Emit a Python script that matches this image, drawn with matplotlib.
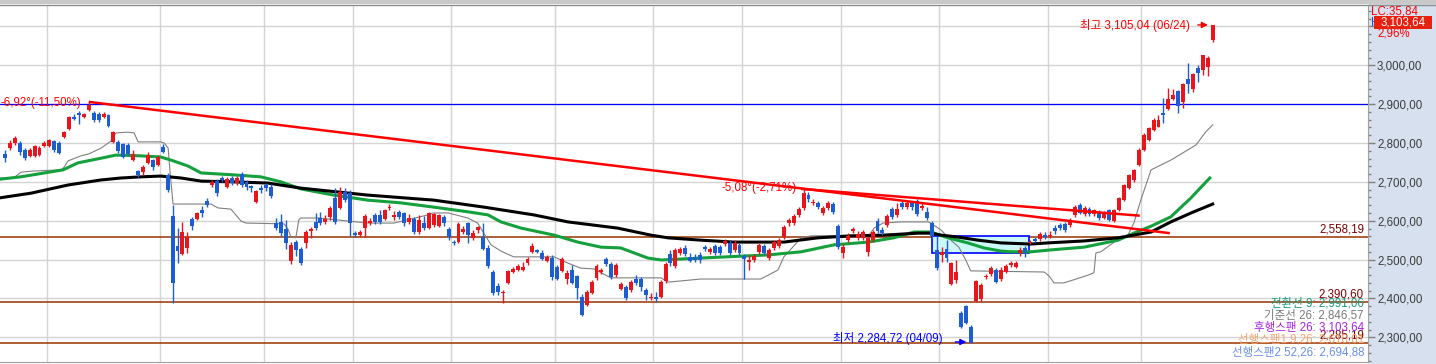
import numpy as np
import matplotlib.pyplot as plt
from matplotlib.patches import Rectangle
from matplotlib.ticker import FuncFormatter, MultipleLocator
import matplotlib.transforms as mtransforms

plt.rcParams['font.family'] = ['Liberation Sans', 'Noto Sans CJK KR', 'DejaVu Sans']

# daily candles, index 0 = first visible day
opens = [2771, 2787, 2800, 2800, 2782, 2767, 2767, 2769, 2792, 2792, 2805, 2800, 2816, 2836, 2867, 2877,
         2867, 2885, 2877, 2875, 2867, 2872, 2803, 2803, 2798, 2795, 2756, 2728, 2726, 2749, 2756, 2743,
         2790, 2718, 2612, 2535, 2514, 2530, 2605, 2605, 2628, 2651, 2692, 2702, 2710, 2687, 2710, 2697,
         2720, 2700, 2689, 2648, 2684, 2692, 2687, 2594, 2597, 2579, 2496, 2545, 2527, 2543, 2574, 2597,
         2607, 2597, 2610, 2659, 2633, 2674, 2671, 2568, 2563, 2581, 2594, 2615, 2615, 2605, 2633, 2610,
         2623, 2620, 2597, 2605, 2571, 2594, 2581, 2589, 2587, 2610, 2579, 2545, 2545, 2571, 2594, 2556,
         2576, 2558, 2530, 2468, 2432, 2414, 2440, 2468, 2473, 2473, 2491, 2520, 2525, 2517, 2496, 2504,
         2481, 2471, 2450, 2473, 2458, 2404, 2383, 2414, 2453, 2468, 2502, 2489, 2460, 2424, 2429, 2422,
         2450, 2450, 2422, 2401, 2404, 2404, 2445, 2514, 2484, 2517, 2530, 2507, 2507, 2512, 2532, 2520,
         2535, 2532, 2540, 2543, 2525, 2538, 2509, 2494, 2499, 2520, 2535, 2504, 2530, 2535, 2558, 2594,
         2594, 2615, 2633, 2666, 2646, 2646, 2620, 2633, 2643, 2587, 2517, 2550, 2574, 2556, 2556, 2520,
         2550, 2599, 2576, 2589, 2630, 2615, 2646, 2635, 2646, 2651, 2633, 2623, 2594, 2525, 2512, 2527,
         2437, 2447, 2363, 2381, 2327, 2394, 2399, 2455, 2463, 2473, 2450, 2468, 2486, 2481, 2517, 2530,
         2543, 2553, 2553, 2563, 2561, 2581, 2589, 2592, 2589, 2614, 2641, 2617, 2630, 2617, 2623, 2607,
         2627, 2599, 2627, 2653, 2684, 2705, 2743, 2782, 2808, 2833, 2841, 2877, 2888, 2913, 2934, 2906,
         2965, 2939, 2993, 2988, 2996, 3064]
highs = [2782, 2808, 2818, 2805, 2787, 2787, 2795, 2792, 2805, 2810, 2808, 2805, 2831, 2870, 2875, 2882,
         2877, 2906, 2882, 2880, 2880, 2875, 2831, 2808, 2800, 2800, 2782, 2731, 2744, 2777, 2759, 2769,
         2797, 2723, 2641, 2581, 2597, 2571, 2610, 2623, 2638, 2659, 2705, 2707, 2715, 2713, 2715, 2715,
         2726, 2705, 2692, 2679, 2692, 2697, 2695, 2607, 2617, 2602, 2545, 2550, 2532, 2576, 2584, 2620,
         2623, 2615, 2638, 2684, 2687, 2684, 2679, 2574, 2576, 2617, 2607, 2620, 2628, 2630, 2643, 2625,
         2628, 2623, 2617, 2610, 2615, 2612, 2623, 2620, 2617, 2615, 2584, 2550, 2597, 2587, 2597, 2576,
         2586, 2594, 2538, 2473, 2440, 2422, 2473, 2481, 2489, 2494, 2507, 2543, 2527, 2525, 2512, 2512,
         2486, 2507, 2473, 2486, 2460, 2411, 2422, 2447, 2489, 2478, 2507, 2494, 2491, 2442, 2434, 2447,
         2460, 2455, 2427, 2414, 2417, 2447, 2494, 2525, 2530, 2532, 2538, 2517, 2514, 2519, 2538, 2532,
         2540, 2538, 2553, 2550, 2550, 2543, 2514, 2512, 2514, 2543, 2540, 2530, 2550, 2556, 2589, 2607,
         2617, 2635, 2682, 2674, 2656, 2651, 2638, 2651, 2648, 2592, 2540, 2568, 2584, 2573, 2576, 2558,
         2576, 2607, 2584, 2617, 2635, 2646, 2651, 2651, 2651, 2656, 2645, 2635, 2599, 2561, 2532, 2550,
         2494, 2499, 2368, 2383, 2332, 2447, 2440, 2463, 2483, 2478, 2481, 2489, 2496, 2496, 2532, 2535,
         2550, 2558, 2571, 2571, 2573, 2589, 2594, 2597, 2607, 2640, 2646, 2638, 2635, 2630, 2628, 2625,
         2630, 2630, 2661, 2695, 2720, 2733, 2787, 2825, 2841, 2864, 2872, 2916, 2942, 2939, 2937, 2955,
         3006, 2980, 3001, 3027, 3024, 3105.04]
lows = [2751, 2782, 2795, 2769, 2756, 2764, 2764, 2767, 2790, 2790, 2777, 2772, 2813, 2833, 2859, 2849,
        2865, 2882, 2854, 2854, 2865, 2841, 2800, 2774, 2761, 2769, 2754, 2713, 2718, 2746, 2731, 2741,
        2774, 2674, 2388, 2491, 2512, 2517, 2576, 2602, 2610, 2636, 2687, 2664, 2700, 2684, 2692, 2692,
        2687, 2679, 2674, 2646, 2671, 2676, 2659, 2576, 2561, 2527, 2488, 2509, 2486, 2530, 2556, 2576,
        2589, 2592, 2602, 2592, 2630, 2648, 2561, 2558, 2558, 2558, 2589, 2592, 2592, 2602, 2628, 2602,
        2605, 2586, 2592, 2566, 2566, 2576, 2579, 2584, 2584, 2587, 2550, 2538, 2543, 2566, 2543, 2550,
        2568, 2524, 2478, 2409, 2409, 2388, 2437, 2465, 2471, 2471, 2486, 2517, 2517, 2499, 2494, 2447,
        2447, 2468, 2437, 2437, 2399, 2355, 2381, 2411, 2447, 2463, 2483, 2450, 2455, 2421, 2396, 2416,
        2434, 2419, 2396, 2396, 2391, 2401, 2440, 2483, 2478, 2512, 2509, 2494, 2494, 2491, 2522, 2514,
        2512, 2512, 2535, 2512, 2519, 2512, 2450, 2473, 2494, 2514, 2512, 2499, 2525, 2530, 2553, 2586,
        2589, 2610, 2627, 2648, 2641, 2630, 2615, 2628, 2617, 2527, 2504, 2545, 2568, 2550, 2550, 2509,
        2545, 2568, 2563, 2584, 2604, 2610, 2630, 2630, 2627, 2612, 2628, 2602, 2556, 2473, 2494, 2494,
        2435, 2440, 2324, 2334, 2284.72, 2391, 2391, 2450, 2458, 2440, 2445, 2465, 2481, 2478, 2509, 2507,
        2540, 2545, 2548, 2553, 2556, 2566, 2576, 2571, 2583, 2610, 2617, 2612, 2612, 2612, 2602, 2604,
        2599, 2596, 2625, 2650, 2681, 2700, 2740, 2779, 2805, 2831, 2841, 2852, 2885, 2910, 2877, 2890,
        2929, 2931, 2957, 2975, 2973, 3060]
closes = [2761, 2800, 2813, 2777, 2761, 2782, 2792, 2787, 2800, 2808, 2782, 2774, 2829, 2867, 2862, 2872,
          2875, 2898, 2859, 2859, 2875, 2844, 2829, 2780, 2764, 2772, 2772, 2718, 2738, 2769, 2738, 2764,
          2777, 2679, 2440, 2522, 2571, 2558, 2587, 2620, 2620, 2641, 2700, 2671, 2705, 2707, 2697, 2710,
          2692, 2687, 2684, 2676, 2679, 2684, 2664, 2581, 2568, 2543, 2538, 2525, 2491, 2571, 2579, 2581,
          2594, 2605, 2633, 2597, 2674, 2653, 2594, 2563, 2571, 2612, 2599, 2597, 2597, 2628, 2635, 2615,
          2610, 2594, 2607, 2571, 2602, 2581, 2620, 2617, 2615, 2594, 2558, 2543, 2592, 2579, 2563, 2568,
          2584, 2527, 2484, 2414, 2417, 2417, 2471, 2476, 2484, 2481, 2502, 2535, 2520, 2502, 2507, 2455,
          2450, 2502, 2466, 2440, 2427, 2357, 2417, 2442, 2484, 2473, 2489, 2455, 2486, 2437, 2401, 2442,
          2440, 2429, 2409, 2404, 2399, 2442, 2489, 2491, 2525, 2527, 2514, 2496, 2499, 2499, 2527, 2527,
          2517, 2517, 2548, 2517, 2543, 2517, 2502, 2499, 2509, 2538, 2517, 2525, 2545, 2550, 2584, 2602,
          2612, 2630, 2671, 2656, 2648, 2635, 2633, 2646, 2623, 2532, 2532, 2561, 2579, 2566, 2571, 2556,
          2571, 2574, 2568, 2612, 2610, 2630, 2635, 2646, 2635, 2617, 2638, 2607, 2561, 2478, 2520, 2504,
          2491, 2468, 2327, 2337, 2286, 2445, 2435, 2458, 2478, 2442, 2473, 2484, 2491, 2491, 2525, 2520,
          2545, 2548, 2566, 2558, 2563, 2574, 2581, 2576, 2602, 2635, 2620, 2633, 2617, 2627, 2607, 2622,
          2602, 2627, 2658, 2692, 2718, 2731, 2782, 2821, 2838, 2859, 2859, 2872, 2913, 2924, 2895, 2952,
          2952, 2978, 2980, 3027, 3019, 3103.64]

# overlay lines, read as (day index, price) knots
base_x = [-1.0, 1.8, 3.2, 5.9, 11.4, 12.0, 12.8, 13.8, 15.4, 17.0, 19.5, 21.5, 22.5, 24.9, 26.2, 27.0,
          31.6, 32.3, 33.1, 33.5, 34.1, 41.8, 43.2, 45.8, 46.5, 47.9, 48.9, 56.6, 57.4, 58.0, 59.0, 59.6,
          60.0, 63.7, 73.6, 78.9, 85.8, 86.8, 89.9, 93.9, 95.9, 97.0, 98.6, 100.6, 103.2, 111.4, 114.2,
          116.8, 119.5, 122.9, 133.1, 134.5, 141.2, 153.3, 156.8, 158.0, 159.8, 161.5, 163.5, 175.3, 176.3,
          178.1, 181.7, 187.2, 187.8, 189.9, 191.9, 193.5, 194.9, 195.9, 210.8, 211.8, 212.8, 214.8, 216.8,
          219.7, 220.9, 221.3, 222.3, 225.0, 227.8, 229.0, 230.4, 232.5, 236.5, 241.6, 243.6, 245.0]
base_y = [2710, 2710, 2725, 2728, 2731, 2738, 2754, 2759, 2767, 2772, 2787, 2805, 2826, 2828, 2826, 2803,
          2803, 2800, 2787, 2723, 2643, 2643, 2633, 2630, 2620, 2599, 2594, 2592, 2579, 2558, 2556, 2602,
          2607, 2607, 2594, 2594, 2615, 2620, 2620, 2607, 2594, 2571, 2538, 2522, 2507, 2507, 2491,
          2478, 2476, 2453, 2453, 2442, 2450, 2450, 2473, 2507, 2532, 2556, 2561, 2563, 2581,
          2594, 2597, 2597, 2594, 2576, 2550, 2532, 2499, 2471, 2468, 2458, 2440, 2440, 2448,
          2460, 2466, 2517, 2520, 2545, 2563, 2594, 2653, 2731, 2756, 2795, 2829, 2846.57]
green_x = [-1.0, 3.2, 11.8, 14.8, 19.5, 22.5, 27.6, 31.6, 33.7, 37.1, 39.8, 46.5, 51.9, 56.0, 60.0, 66.7,
           73.6, 80.3, 87.0, 93.9, 98.0, 100.6, 104.7, 111.4, 116.2, 120.9, 124.9, 130.4, 133.1, 141.2,
           154.8, 161.5, 168.2, 175.1, 180.3, 184.4, 187.8, 191.3, 195.3, 198.6, 202.0, 204.1, 208.1,
           212.2, 218.9, 225.8, 229.0, 232.5, 236.5, 240.6, 244.4]
green_y = [2707, 2713, 2731, 2749, 2761, 2769, 2767, 2764, 2756, 2741, 2723, 2718, 2713, 2700, 2682, 2666,
           2653, 2646, 2635, 2623, 2615, 2597, 2581, 2563, 2545, 2532, 2530, 2504, 2499, 2504,
           2512, 2520, 2538, 2545, 2556, 2571, 2571, 2556, 2543, 2530, 2522, 2520, 2520,
           2525, 2532, 2550, 2568, 2586, 2610, 2659, 2710]
black_x = [-1.0, 5.3, 12.8, 19.5, 23.5, 27.6, 31.6, 35.7, 39.8, 46.5, 53.3, 60.0, 73.6, 87.0, 97.2, 107.3,
           114.2, 124.3, 131.0, 134.5, 141.2, 147.9, 158.0, 164.9, 171.6, 178.3, 185.2, 187.8, 189.9,
           193.3, 197.4, 202.0, 208.1, 211.6, 218.9, 225.8, 232.5, 236.5, 240.6, 245.0]
black_y = [2659, 2671, 2692, 2705, 2710, 2713, 2715, 2710, 2702, 2700, 2697, 2684, 2666, 2653, 2635, 2615,
           2597, 2581, 2563, 2556, 2550, 2545, 2545, 2556, 2561, 2563, 2568, 2568, 2563,
           2558, 2550, 2543, 2540, 2543, 2548, 2556, 2571, 2597, 2620, 2643]

# trend lines (start, end) and horizontal levels
trend1 = [(17.0, 2906), (236.3, 2568)]
trend2 = [(161.5, 2682), (230.2, 2613)]
level_blue = 2900.5
levels = [2558.19, 2390.60, 2285.19]
level_labels = ['2,558,19', '2,390,60', '2,285,19']
month_lines = [8.5, 31.5, 52.5, 70.5, 90.5, 111.5, 131.5, 149.5, 169.5, 189.5, 211.5, 230.5]
gap_box = (188.0, 2517.0, 207.7, 2560.7)

legend_txt = ['전환선 9: 2,991,06', '기준선 26: 2,846,57', '후행스팬 26: 3,103,64',
              '선행스팬1 9,26: 2,610,01', '선행스팬2 52,26: 2,694,88']
legend_col = ['#129a78', '#7a7a7a', '#a624e0', '#f4a46c', '#6a8ef0']

RED = '#e8161c'
BLUE = '#1c5ed2'
BROWN = '#993300'

W, H = 1436, 364
fig = plt.figure(figsize=(W / 100, H / 100), dpi=100)


def fx(x):
    return x / W


def fy(y):
    return 1 - y / H


# right scale panel and top strip
fig.add_artist(Rectangle((fx(1369), 0), 1 - fx(1369), fy(4), transform=fig.transFigure,
                         facecolor='#d6e0ee', edgecolor='none', zorder=-1))
fig.add_artist(Rectangle((0, fy(4)), 1, 4 / H, transform=fig.transFigure,
                         facecolor='#c8c8c8', edgecolor='none', zorder=-1))
fig.add_artist(plt.Line2D([0, 1], [fy(4.5), fy(4.5)], transform=fig.transFigure, color='#8c8c8c', lw=1))

ax = fig.add_axes([0, fy(362), fx(1368), fy(5) - fy(362)])
ax.set_xlim(-1.01, 276.5)
ax.set_ylim(2236.4, 3155.3)

for s in ['top', 'left']:
    ax.spines[s].set_visible(False)
ax.spines['right'].set_color('#a0a0a0')
ax.spines['bottom'].set_color('#a0a0a0')

ax.yaxis.tick_right()
ax.yaxis.set_major_locator(MultipleLocator(100))
ax.yaxis.set_minor_locator(MultipleLocator(20))
ax.yaxis.set_major_formatter(FuncFormatter(
    lambda v, p: '' if v > 3050 else f'{v:,.2f}'.replace('.', ',')))
ax.tick_params(axis='y', which='major', length=5, width=1, color='#808080',
               labelsize=8.3, labelcolor='#3c3c3c', pad=1.5)
ax.tick_params(axis='y', which='minor', length=2.5, width=1, color='#808080')
ax.set_xticks([])
ax.grid(axis='y', which='major', color='#d4d4d4', lw=1, zorder=0)
for m in month_lines:
    ax.axvline(m, color='#d4d4d4', lw=1, zorder=0)

for lv in levels:
    ax.axhline(lv, color=BROWN, lw=1.1, zorder=2)
ax.axhline(level_blue, color='#0000ff', lw=0.9, zorder=2)

x0, y0, x1, y1 = gap_box
ax.add_patch(Rectangle((x0, y0), x1 - x0, y1 - y0, facecolor='#cdf8f8', edgecolor='#0000ff',
                       lw=1.2, zorder=2))

ax.plot(base_x, base_y, color='#808080', lw=0.8, zorder=3)
ax.plot(green_x, green_y, color='#14a03c', lw=2.2, zorder=3)
ax.plot(black_x, black_y, color='#000000', lw=2.2, zorder=3)

o = np.array(opens, dtype=float)
c = np.array(closes, dtype=float)
idx = np.arange(len(o))
col = np.where(c >= o, RED, BLUE)
ax.vlines(idx, lows, highs, colors=col, lw=1, zorder=5)
ax.bar(idx, np.maximum(np.abs(c - o), 1.5), bottom=np.minimum(o, c), width=0.8,
       color=col, linewidth=0, zorder=6)

for tl in (trend1, trend2):
    ax.plot([tl[0][0], tl[1][0]], [tl[0][1], tl[1][1]], color='#ff0000', lw=1.8, zorder=7,
            solid_capstyle='butt')

fs = 8.3
ax.text(-1.0, 2895, '-6,92°(-11,50%)', color='#ff0000', fontsize=fs, ha='left', va='baseline', zorder=8)
ax.text(160.6, 2677, '-5,08°(-2,71%)', color='#ff0000', fontsize=fs, ha='right', va='baseline', zorder=8)

ax.text(240.4, 3103, '최고 3,105,04 (06/24)', color='#ff0000', fontsize=fs, ha='right', va='center', zorder=8)
ax.annotate('', xy=(244.6, 3104), xytext=(241.4, 3104),
            arrowprops=dict(arrowstyle='-|>', color='#ff0000', lw=1, mutation_scale=9), zorder=8)
ax.text(168.0, 2296, '최저 2,284,72 (04/09)', color='#0000ff', fontsize=fs, ha='left', va='center', zorder=8)
ax.annotate('', xy=(195.6, 2288), xytext=(192.2, 2288),
            arrowprops=dict(arrowstyle='-|>', color='#0000ff', lw=1, mutation_scale=9), zorder=8)

trans = mtransforms.blended_transform_factory(ax.transAxes, ax.transData)
for i, (t, cl) in enumerate(zip(legend_txt, legend_col)):
    fig.text(fx(1364), fy(303 + 12.3 * i), t, color=cl, fontsize=fs, ha='right', va='center', zorder=8)
for lv, lb in zip(levels, level_labels):
    ax.text(1364 / 1368, lv + 4, lb, color='#800000', fontsize=fs, ha='right', va='bottom',
            transform=trans, zorder=9)

# top-right price box
fig.text(fx(1371), fy(12), 'LC:35,84', color='#ff0000', fontsize=fs, ha='left', va='center')
fig.text(fx(1371), fy(23), 'H', color='#1c50d0', fontsize=fs, ha='left', va='center')
fig.add_artist(Rectangle((fx(1374), fy(29)), fx(58), 13 / H, transform=fig.transFigure,
                         facecolor='#e8200e', edgecolor='none', zorder=4))
fig.text(fx(1403), fy(22.5), '3,103,64', color='white', fontsize=fs, ha='center', va='center', zorder=5)
fig.text(fx(1377), fy(34), '2,96%', color='#ff0000', fontsize=fs, ha='left', va='center')

fig.savefig('out.png', dpi=100)
